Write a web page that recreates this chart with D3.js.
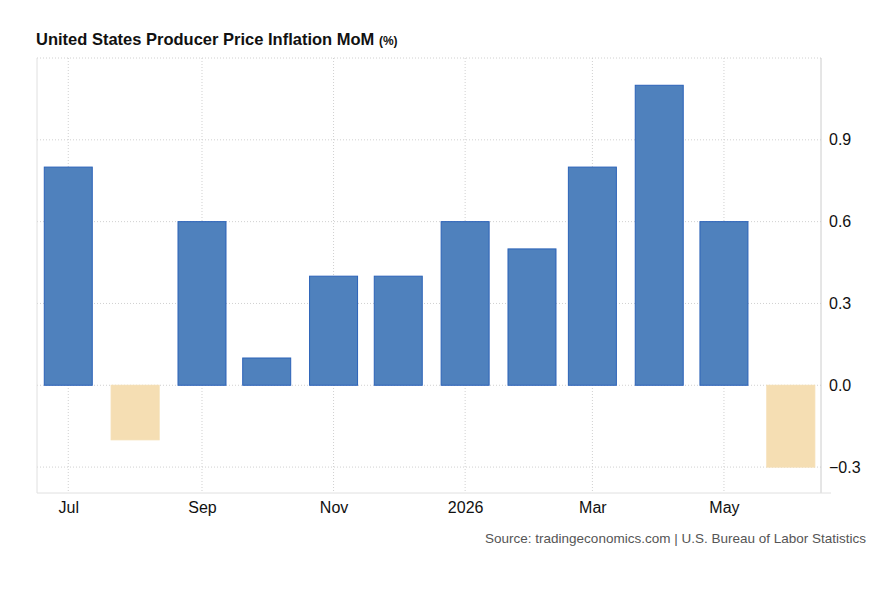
<!DOCTYPE html>
<html>
<head>
<meta charset="utf-8">
<script src="https://cdn.jsdelivr.net/npm/d3@7"></script>
<style>
body { margin: 0; background: #fff; font-family: "Liberation Sans", Arial, sans-serif; }
</style>
</head>
<body>
<script>
var months = ["2025-07", "2025-08", "2025-09", "2025-10", "2025-11", "2025-12",
	"2026-01", "2026-02", "2026-03", "2026-04", "2026-05", "2026-06"];
var values = [0.8, -0.2, 0.6, 0.1, 0.4, 0.4, 0.6, 0.5, 0.8, 1.1, 0.6, -0.3];
var yTicks = [-0.3, 0, 0.3, 0.6, 0.9, 1.2];

var parse = d3.timeParse("%Y-%m");
var plotLeft = 37, plotRight = 821, plotTop = 58, plotBottom = 493;

var svg = d3.select("body").append("svg")
	.attr("width", 882)
	.attr("height", 603);

svg.append("text")
	.attr("x", 36).attr("y", 45)
	.attr("font-size", 16.5).attr("font-weight", "bold").attr("fill", "#111")
	.text("United States Producer Price Inflation MoM ")
	.append("tspan").attr("font-size", 12).text("(%)");

var x = d3.scaleTime()
	.domain([new Date(2025, 5, 16, 12), new Date(2026, 5, 15)])
	.range([plotLeft, plotRight]);
var y = d3.scaleLinear().domain([-0.395, 1.2]).range([plotBottom, plotTop]);

var xTicks = months.filter(function(d, i) { return i % 2 == 0; }).map(parse);

// grid
svg.append("g").selectAll("line").data(yTicks).enter().append("line")
	.attr("x1", plotLeft).attr("x2", plotRight)
	.attr("y1", function(d) { return y(d); }).attr("y2", function(d) { return y(d); })
	.style("stroke", "#d0d0d0").style("stroke-dasharray", "1,2");
svg.append("g").selectAll("line").data(xTicks).enter().append("line")
	.attr("x1", function(d) { return x(d); }).attr("x2", function(d) { return x(d); })
	.attr("y1", plotTop).attr("y2", plotBottom)
	.style("stroke", "#d0d0d0").style("stroke-dasharray", "1,2");

// frame
svg.append("line").attr("x1", plotLeft).attr("x2", plotLeft).attr("y1", plotTop).attr("y2", plotBottom).style("stroke", "#e0e0e0");
svg.append("line").attr("x1", plotRight).attr("x2", plotRight).attr("y1", plotTop).attr("y2", plotBottom).style("stroke", "#ccc");
svg.append("line").attr("x1", plotLeft).attr("x2", plotRight + 10).attr("y1", plotBottom).attr("y2", plotBottom).style("stroke", "#e0e0e0");

// bars
svg.append("g").selectAll("rect").data(values).enter().append("rect")
	.attr("x", function(d, i) { return x(parse(months[i])) - 24; })
	.attr("width", 48)
	.attr("y", function(d) { return y(Math.max(0, d)); })
	.attr("height", function(d) { return Math.abs(y(d) - y(0)); })
	.style("fill", function(d) { return d < 0 ? "#f5deb3" : "#4f81bd"; })
	.style("stroke", function(d) { return d < 0 ? "#f5deb3" : "#2b62b8"; })
	.style("stroke-width", 1);

// axes
var yAxis = svg.append("g")
	.attr("transform", "translate(" + plotRight + ",0)")
	.call(d3.axisRight(y).tickValues(yTicks.filter(function(d) { return d < 1.2; }))
		.tickFormat(d3.format(".1f")).tickSize(0).tickPadding(8));
yAxis.select(".domain").remove();
yAxis.selectAll("text").attr("font-size", 16).attr("fill", "#111").attr("font-family", "Liberation Sans, Arial, sans-serif");

var xAxis = svg.append("g")
	.attr("transform", "translate(0," + plotBottom + ")")
	.call(d3.axisBottom(x).tickValues(xTicks).tickSize(0).tickPadding(9)
		.tickFormat(function(d) { return d.getMonth() == 0 ? d3.timeFormat("%Y")(d) : d3.timeFormat("%b")(d); }));
xAxis.select(".domain").remove();
xAxis.selectAll("text").attr("font-size", 16).attr("fill", "#111").attr("font-family", "Liberation Sans, Arial, sans-serif");

svg.append("text")
	.attr("x", 866).attr("y", 543).attr("text-anchor", "end")
	.attr("font-size", 13.5).attr("fill", "#555")
	.text("Source: tradingeconomics.com | U.S. Bureau of Labor Statistics");
</script>
</body>
</html>
